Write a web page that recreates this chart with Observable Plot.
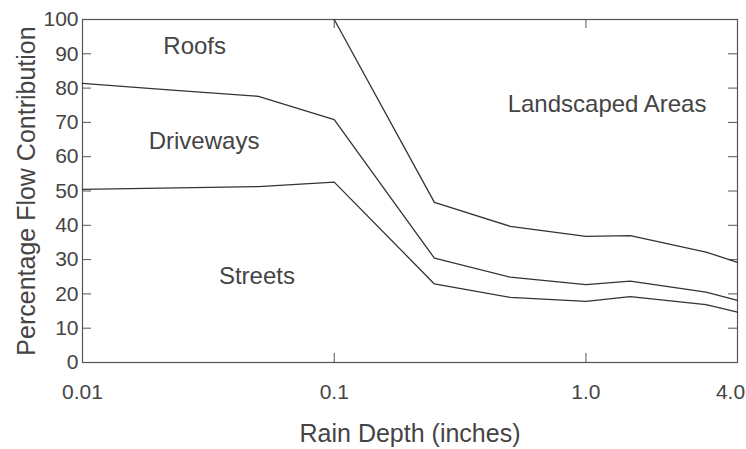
<!DOCTYPE html>
<html>
<head>
<meta charset="utf-8">
<script src="https://cdn.jsdelivr.net/npm/d3@7"></script>
<script src="https://cdn.jsdelivr.net/npm/@observablehq/plot@0.6"></script>
<style>
  html, body { margin: 0; padding: 0; background: #fff; }
  svg { font-family: "Liberation Sans", Arial, sans-serif; }
</style>
</head>
<body>
<div id="chart"></div>
<script>
// Data
const streetsX = [0.01, 0.05, 0.1, 0.25, 0.5, 1.0, 1.5, 3.0, 4.0];
const streetsY = [50.5, 51.3, 52.6, 22.9, 19.0, 17.8, 19.2, 16.9, 14.7];
const drivewaysX = [0.01, 0.022, 0.05, 0.1, 0.25, 0.5, 1.0, 1.5, 3.0, 4.0];
const drivewaysY = [81.4, 79.5, 77.6, 70.8, 30.4, 24.9, 22.7, 23.7, 20.5, 18.1];
const roofsX = [0.1, 0.25, 0.5, 1.0, 1.5, 3.0, 4.0];
const roofsY = [100, 46.7, 39.7, 36.8, 37.0, 32.2, 29.2];

const areaLabels = ["Roofs", "Driveways", "Streets", "Landscaped Areas"];
const areaLabelX = [0.0279, 0.0304, 0.0493, 1.213];
const areaLabelY = [92.1, 64.4, 25.1, 75.2];

const xTickValues = [0.01, 0.1, 1];
const xTickLabels = ["0.01", "0.1", "1.0"];
const xLastTick = [4];
const xLastLabel = ["4.0"];
const xInnerTicks = [0.1, 1];
const yTickValues = [0, 10, 20, 30, 40, 50, 60, 70, 80, 90, 100];
const yInnerTicks = [10, 20, 30, 40, 50, 60, 70, 80, 90];

const xTitle = "Rain Depth (inches)";
const yTitle = "Percentage Flow Contribution";

const W = 746, H = 449;
const mL = 82, mR = 9, mT = 19, mB = 87;
const pw = W - mL - mR, ph = H - mT - mB;
const tickLen = 9;
const ink = "#333";
const txt = "#444";

const toRows = (xs, ys) => xs.map((x, i) => ({x, y: ys[i]}));
const labelRows = areaLabels.map((t, i) => ({t, x: areaLabelX[i], y: areaLabelY[i]}));
const xLabelRows = xTickValues.map((v, i) => ({v, t: xTickLabels[i]}));
const xLastRows = xLastTick.map((v, i) => ({v, t: xLastLabel[i]}));

const chart = Plot.plot({
  width: W, height: H,
  marginLeft: mL, marginRight: mR, marginTop: mT, marginBottom: mB,
  style: {fontFamily: "Liberation Sans, Arial, sans-serif", fontSize: "21px", color: txt, background: "#fff"},
  x: {type: "log", domain: [0.01, 4], axis: null},
  y: {domain: [0, 100]},
  marks: [
    Plot.frame({stroke: "#555", strokeWidth: 1.2}),
    // inward ticks, left & right
    Plot.tickY(yInnerTicks, {y: d => d, insetRight: pw - tickLen, stroke: "#555"}),
    Plot.tickY(yInnerTicks, {y: d => d, insetLeft: pw - tickLen, stroke: "#555"}),
    // inward ticks, bottom & top
    Plot.tickX(xInnerTicks, {x: d => d, insetTop: ph - tickLen, stroke: "#555"}),
    Plot.tickX(xInnerTicks, {x: d => d, insetBottom: ph - tickLen, stroke: "#555"}),
    Plot.axisY({ticks: yTickValues, tickSize: 0, tickPadding: 4, label: null, fill: txt}),
    Plot.text(xLabelRows, {x: "v", text: "t", frameAnchor: "bottom", lineAnchor: "middle", dy: 30, fill: txt}),
    Plot.text(xLastRows, {x: "v", text: "t", frameAnchor: "bottom", lineAnchor: "middle", dy: 30, dx: -7, fill: txt}),
    Plot.line(toRows(streetsX, streetsY), {x: "x", y: "y", stroke: ink, strokeWidth: 1.3}),
    Plot.line(toRows(drivewaysX, drivewaysY), {x: "x", y: "y", stroke: ink, strokeWidth: 1.3}),
    Plot.line(toRows(roofsX, roofsY), {x: "x", y: "y", stroke: ink, strokeWidth: 1.3}),
    Plot.text(labelRows, {x: "x", y: "y", text: "t", fontSize: 24, fill: txt}),
    Plot.text([xTitle], {frameAnchor: "bottom", lineAnchor: "middle", textAnchor: "middle", dy: 71, fontSize: 25, fill: txt}),
    Plot.text([yTitle], {frameAnchor: "left", textAnchor: "middle", lineAnchor: "middle", rotate: -90, dx: -56, fontSize: 25, fill: txt})
  ]
});
document.getElementById("chart").appendChild(chart);
</script>
</body>
</html>
